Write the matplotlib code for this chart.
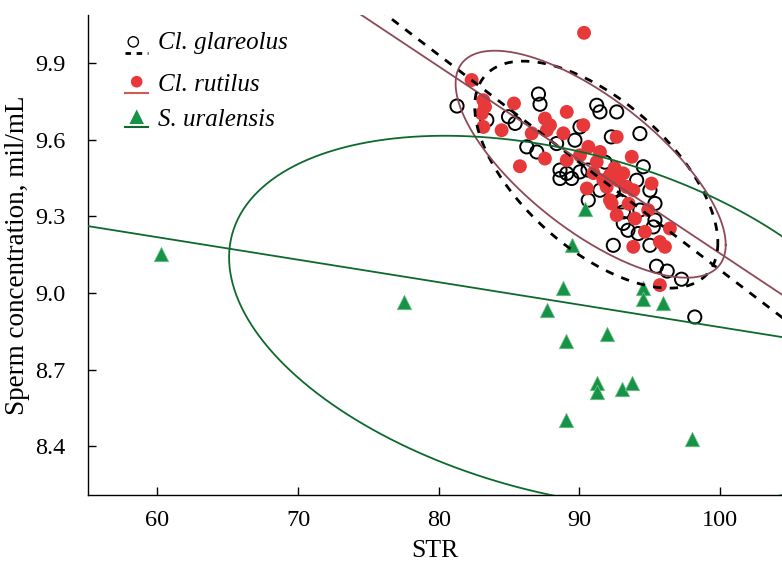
import numpy as np
import matplotlib
matplotlib.use("Agg")
import matplotlib.pyplot as plt

plt.rcParams["font.family"] = ["Liberation Serif", "DejaVu Serif"]

# Cl. glareolus (open circles)
glareolus_str = [81.30, 87.09, 87.20, 83.42, 84.96, 85.43, 86.26, 86.97, 90.04, 91.23,
                 91.46, 92.65, 94.30, 88.38, 88.62, 89.10, 89.45, 90.04, 90.61, 90.63,
                 94.54, 95.37, 95.37, 93.12, 92.41, 95.01, 95.48, 96.24, 97.26, 98.20,
                 93.00, 93.12, 94.30, 92.41, 94.07, 94.18, 95.25, 88.62, 89.68, 91.46,
                 91.82, 93.45, 95.01, 92.27]
glareolus_conc = [9.733, 9.780, 9.740, 9.678, 9.691, 9.665, 9.573, 9.553, 9.651, 9.736,
                  9.710, 9.710, 9.625, 9.586, 9.482, 9.469, 9.449, 9.475, 9.482, 9.364,
                  9.495, 9.351, 9.286, 9.273, 9.187, 9.187, 9.105, 9.086, 9.054, 8.906,
                  9.357, 9.318, 9.325, 9.403, 9.442, 9.233, 9.259, 9.449, 9.599, 9.403,
                  9.513, 9.246, 9.403, 9.612]

# Cl. rutilus (red dots)
rutilus_str = [90.33, 82.34, 83.17, 83.29, 83.06, 83.17, 84.47, 85.35, 86.61, 85.77,
               87.55, 87.91, 87.68, 89.10, 88.86, 90.28, 87.55, 89.10, 90.04, 90.64,
               91.46, 91.23, 92.65, 93.72, 92.17, 93.12, 91.94, 93.36, 90.53, 92.17,
               93.83, 91.70, 95.13, 92.29, 92.65, 93.95, 94.89, 94.66, 96.43, 95.72,
               96.08, 93.83, 95.72, 92.80, 93.50, 91.00, 92.50]
rutilus_conc = [10.02, 9.835, 9.756, 9.730, 9.704, 9.651, 9.638, 9.743, 9.626, 9.497,
                9.684, 9.658, 9.638, 9.710, 9.626, 9.658, 9.527, 9.521, 9.540, 9.573,
                9.553, 9.514, 9.612, 9.534, 9.462, 9.469, 9.416, 9.416, 9.410, 9.364,
                9.403, 9.442, 9.429, 9.351, 9.305, 9.292, 9.325, 9.240, 9.253, 9.200,
                9.181, 9.181, 9.031, 9.440, 9.350, 9.470, 9.490]

# S. uralensis (triangles)
uralensis_str = [60.26, 77.53, 87.71, 88.85, 89.04, 89.04, 89.45, 90.39, 91.23, 91.23,
                 91.94, 93.00, 93.71, 94.54, 94.54, 95.96, 97.98]
uralensis_conc = [9.152, 8.965, 8.933, 9.018, 8.812, 8.501, 9.187, 9.331, 8.647, 8.612,
                  8.841, 8.625, 8.647, 9.018, 8.975, 8.961, 8.429]

# regression lines: (intercept, slope)
glareolus_fit = (13.306, -0.04216)
rutilus_fit = (12.822, -0.03667)
uralensis_fit = (9.748, -0.00882)

# ellipses: (center x, center y, half range x, half range y, correlation)
glareolus_ell = (91.2, 9.464, 8.64, 0.445, -0.60)
rutilus_ell = (90.8, 9.505, 9.6, 0.445, -0.71)
uralensis_ell = (88.6, 8.886, 23.5, 0.7305, -0.3474)

species = ["Cl. glareolus", "Cl. rutilus", "S. uralensis"]

RED = "#e8393a"
MAROON = "#8c4a57"
GREEN = "#159447"
DKGREEN = "#0d6a2c"


def ellipse_xy(params):
    cx, cy, a, b, r = params
    t = np.linspace(0, 2 * np.pi, 400)
    phi = np.arccos(r)
    return cx + a * np.cos(t), cy + b * np.cos(t + phi)


def main():
    fig = plt.figure(figsize=(7.82, 5.61), dpi=100)
    ax = fig.add_axes([0.1125, 0.1176, 0.8875, 0.8557])

    ax.scatter(glareolus_str, glareolus_conc, s=90, facecolors="none",
               edgecolors="black", linewidths=1.4, zorder=3)
    ax.scatter(rutilus_str, rutilus_conc, s=100, color=RED, edgecolors="none", zorder=4)
    ax.scatter(uralensis_str, uralensis_conc, s=110, marker="^", color=GREEN,
               edgecolors="#7cc48f", linewidths=0.5, zorder=4)

    xs = np.array([50, 110])
    a, b = glareolus_fit
    ax.plot(xs, a + b * xs, color="black", lw=2, dashes=(3, 3), zorder=5)
    a, b = rutilus_fit
    ax.plot(xs, a + b * xs, color=MAROON, lw=1.3, zorder=5)
    a, b = uralensis_fit
    ax.plot(xs, a + b * xs, color=DKGREEN, lw=1.3, zorder=5)

    x, y = ellipse_xy(glareolus_ell)
    ax.plot(x, y, color="black", lw=2, dashes=(3, 3), zorder=5)
    x, y = ellipse_xy(rutilus_ell)
    ax.plot(x, y, color=MAROON, lw=1.3, zorder=5)
    x, y = ellipse_xy(uralensis_ell)
    ax.plot(x, y, color=DKGREEN, lw=1.3, zorder=5)

    ax.set_xlim(55.07, 104.4)
    ax.set_ylim(8.208, 10.09)
    ax.set_xticks([60, 70, 80, 90, 100])
    ax.set_yticks([8.4, 8.7, 9.0, 9.3, 9.6, 9.9])
    ax.set_yticklabels(["8.4", "8.7", "9.0", "9.3", "9.6", "9.9"])
    ax.tick_params(direction="in", length=6, width=1, labelsize=17.5)
    ax.tick_params(axis="y", pad=16)
    ax.tick_params(axis="x", pad=11)
    for side in ["top", "right"]:
        ax.spines[side].set_visible(False)
    for side in ["left", "bottom"]:
        ax.spines[side].set_linewidth(1)
    ax.set_xlabel("STR", fontsize=18.5, labelpad=6)
    ax.set_ylabel("Sperm concentration, mil/mL", fontsize=19.5, labelpad=4)

    # legend drawn by hand: marker above a short line
    tr = ax.transAxes
    ax.plot([0.0533, 0.0865], [0.920, 0.920], color="black", lw=2, dashes=(2, 2), transform=tr)
    ax.scatter([0.0653], [0.944], s=55, facecolors="none", edgecolors="black",
               linewidths=1, transform=tr)
    ax.plot([0.0533, 0.0865], [0.837, 0.837], color="#d05a5a", lw=1.5, transform=tr)
    ax.scatter([0.0702], [0.861], s=70, color=RED, edgecolors="none", transform=tr)
    ax.plot([0.0533, 0.0865], [0.767, 0.767], color=DKGREEN, lw=1.5, transform=tr)
    ax.scatter([0.0702], [0.788], s=110, marker="^", color=GREEN, edgecolors="none",
               transform=tr)
    for name, yy in zip(species, [0.941, 0.854, 0.781]):
        ax.text(0.1013, yy, name, transform=tr, fontsize=18, style="italic",
                va="center", ha="left")

    fig.savefig("out.png", dpi=100)


if __name__ == "__main__":
    main()
